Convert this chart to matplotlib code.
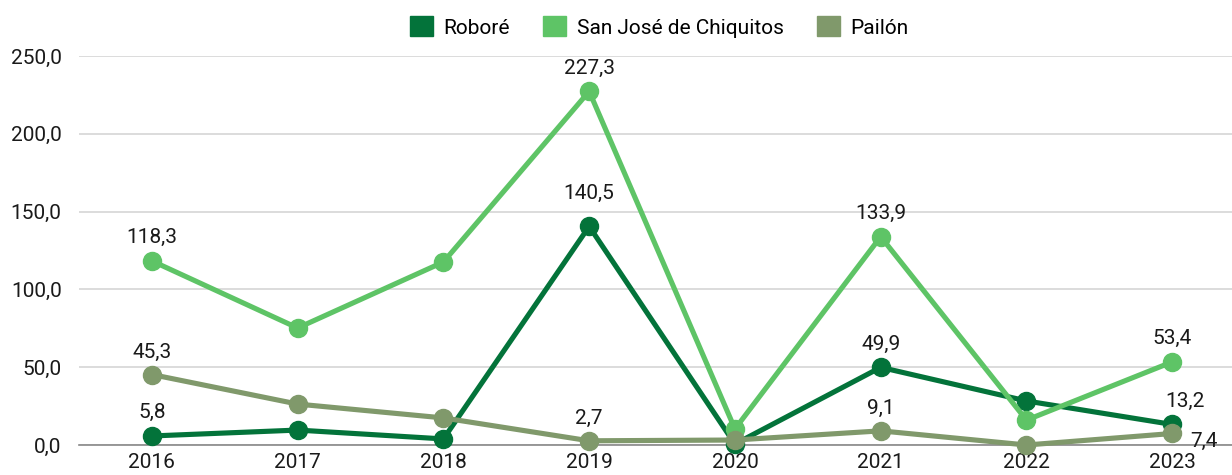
import matplotlib
matplotlib.use("Agg")
import matplotlib.pyplot as plt
from matplotlib.patches import Patch

years = ["2016", "2017", "2018", "2019", "2020", "2021", "2022", "2023"]
robore = [5.8, 9.6, 3.9, 140.5, 0.6, 49.9, 28.3, 13.2]
san_jose = [118.3, 75.2, 117.6, 227.3, 10.3, 133.9, 16.0, 53.4]
pailon = [45.3, 26.3, 17.4, 2.7, 3.2, 9.1, 0.0, 7.4]
series_names = ["Roboré", "San José de Chiquitos", "Pailón"]
yticks = [0, 50, 100, 150, 200, 250]
labeled_idx = [0, 3, 5, 7]

colors = ["#03733a", "#5ec466", "#80996b"]

plt.rcParams['font.family'] = ['Roboto', 'DejaVu Sans']

fig = plt.figure(figsize=(12.32, 4.75), dpi=100)
ax = fig.add_axes([79/1232, 30/475, 1 - 79/1232, (445-56)/475])

x = list(range(len(years)))
for i, (vals, col) in enumerate(zip([robore, san_jose, pailon], colors)):
    ax.plot(x, vals, color=col, lw=3.7, marker='o', ms=13, solid_capstyle='round',
            clip_on=False, zorder=3 + i)

fs = 15
def lab(xi, v, dx=0, dy=10, ha='center', va='bottom'):
    ax.annotate(f"{v:.1f}".replace('.', ','), (xi, v), xytext=(dx, dy),
                textcoords='offset points', ha=ha, va=va, fontsize=fs,
                color='#1a1a1a', zorder=10)

for i in labeled_idx:
    if i == 7:
        continue
    lab(i, robore[i], dy=10 if i != 3 else 17)
    lab(i, san_jose[i], dy=10)
    lab(i, pailon[i], dy=9)
lab(7, san_jose[7], dy=10)
lab(7, robore[7], dx=9, dy=10)
lab(7, pailon[7], dx=13, dy=-6, ha='left', va='center')

ax.set_xlim(-0.5, 7.41)
ax.set_ylim(0, 250)
ax.set_xticks(x)
ax.set_xticklabels(years)
ax.set_yticks(yticks)
ax.set_yticklabels([f"{t:.1f}".replace('.', ',') for t in yticks])
ax.tick_params(axis='both', length=0, labelsize=fs, colors='#1a1a1a')
ax.tick_params(axis='y', pad=12.5)
ax.tick_params(axis='x', pad=6)
ax.grid(axis='y', color='#d9d9d9', lw=1.3)
ax.set_axisbelow(True)
for s in ['top', 'right', 'left']:
    ax.spines[s].set_visible(False)
ax.spines['bottom'].set_color('#888888')
ax.spines['bottom'].set_linewidth(1.2)

handles = [Patch(facecolor=c, edgecolor=c) for c in colors]
fig.legend(handles, series_names, loc='center', bbox_to_anchor=(0.535, 1 - 27/475),
           ncol=3, frameon=False, fontsize=fs, handlelength=1.1, handleheight=1.1,
           handletextpad=0.5, columnspacing=1.6)

fig.savefig("out.png", dpi=100)
